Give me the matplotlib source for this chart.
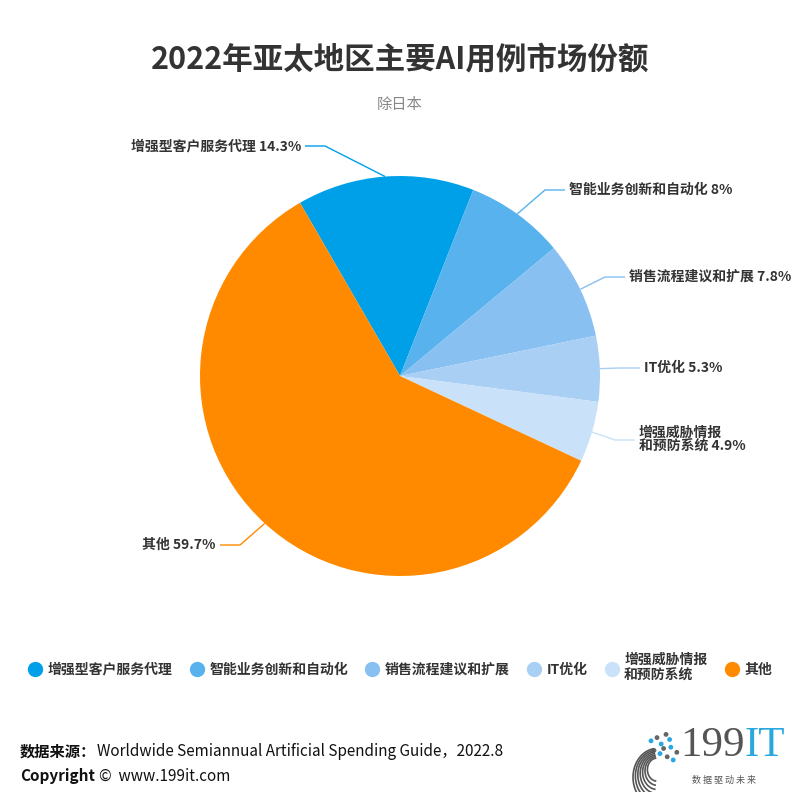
import numpy as np
import matplotlib.pyplot as plt
from matplotlib.lines import Line2D

plt.rcParams['font.family'] = ['Noto Sans CJK SC', 'DejaVu Sans']

# data
categories = ['增强型客户服务代理', '智能业务创新和自动化', '销售流程建议和扩展',
              'IT优化', '增强威胁情报\n和预防系统', '其他']
shares = [14.3, 8, 7.8, 5.3, 4.9, 59.7]
share_text = ['14.3%', '8%', '7.8%', '5.3%', '4.9%', '59.7%']
colors = ['#00A0E9', '#58B2EE', '#87C0F1', '#A9CFF5', '#C9E2F9', '#FF8A00']

# elbow points of leader lines (pie radius units), layout only
elbows = [(-0.375, 1.15), (0.725, 0.93), (1.025, 0.495), (1.1, 0.04),
          (1.075, -0.32), (-0.8, -0.845)]

fig = plt.figure(figsize=(8, 8), dpi=100)
fig.patch.set_facecolor('white')

ax = fig.add_axes([0.25, 0.28, 0.5, 0.5])
wedges, _ = ax.pie(shares, colors=colors, startangle=120, counterclock=False,
                   radius=1, wedgeprops=dict(linewidth=0))
ax.set_xlim(-1, 1)
ax.set_ylim(-1, 1)
ax.set_aspect('equal')
ax.axis('off')

for w, cat, txt, (ex, ey) in zip(wedges, categories, share_text, elbows):
    mid = np.deg2rad((w.theta1 + w.theta2) / 2)
    px, py = np.cos(mid), np.sin(mid)
    side = 1 if ex > 0 else -1
    hx = ex + side * 0.1
    ax.plot([px, ex, hx], [py, ey, ey], color=w.get_facecolor(), lw=1,
            clip_on=False, solid_capstyle='butt')
    ax.text(hx + side * 0.02, ey, cat + ' ' + txt, ha='left' if side > 0 else 'right',
            va='center', fontsize=10, fontweight='bold', color='#333333',
            linespacing=0.95, clip_on=False)

# title
fig.text(0.5, 0.925, '2022年亚太地区主要AI用例市场份额', ha='center', va='center',
         fontsize=22, fontweight='bold', color='#333333')
fig.text(0.5, 0.87, '除日本', ha='center', va='center', fontsize=11, color='#888888')

# legend
handles = [Line2D([0], [0], marker='o', linestyle='none', markersize=10,
                  markerfacecolor=c, markeredgecolor=c) for c in colors]
fig.legend(handles, categories, loc='center', bbox_to_anchor=(0.5, 0.165),
           ncol=6, frameon=False, handletextpad=0.4, columnspacing=1.25,
           handlelength=1.0, prop=dict(size=10, weight='bold'),
           labelcolor='#333333', labelspacing=0.2)

# footer
fig.text(0.025, 0.06, '数据来源：', fontsize=11, fontweight='bold', color='#111111',
         va='center')
fig.text(0.121, 0.06, 'Worldwide Semiannual Artificial Spending Guide，2022.8',
         fontsize=11, color='#111111', va='center')
fig.text(0.025, 0.03, 'Copyright', fontsize=11, fontweight='bold', color='#111111',
         va='center')
fig.text(0.124, 0.03, '©  www.199it.com', fontsize=11, color='#111111', va='center')

# logo
lax = fig.add_axes([0.78, 0.01, 0.075, 0.08])
lax.set_xlim(0, 1)
lax.set_ylim(0, 1)
lax.axis('off')
for k in range(7):
    a = np.linspace(np.pi * 0.55, np.pi * 1.45, 30)
    r = 0.2 + k * 0.05
    lax.plot(0.55 + r * np.cos(a) * 0.8, 0.35 + r * np.sin(a) * 0.9 - k * 0.02,
             color='#555555', lw=1.2)
dots_x = [0.45, 0.55, 0.62, 0.7, 0.78, 0.5, 0.6, 0.72, 0.82, 0.66, 0.76, 0.88]
dots_y = [0.8, 0.85, 0.75, 0.9, 0.7, 0.65, 0.6, 0.55, 0.5, 0.68, 0.82, 0.62]
lax.scatter(dots_x, dots_y, s=6, color=['#29A8E0', '#666666'] * 6)
fig.text(0.85, 0.068, '199', fontsize=31, family='Liberation Serif', color='#555555',
         va='center', ha='left')
fig.text(0.93, 0.068, 'IT', fontsize=31, family='Liberation Serif', color='#29A8E0',
         va='center', ha='left')
fig.text(0.905, 0.024, '数 据 驱 动 未 来', fontsize=6.5, color='#555555',
         va='center', ha='center')

fig.savefig('out.png', dpi=100, facecolor='white')
